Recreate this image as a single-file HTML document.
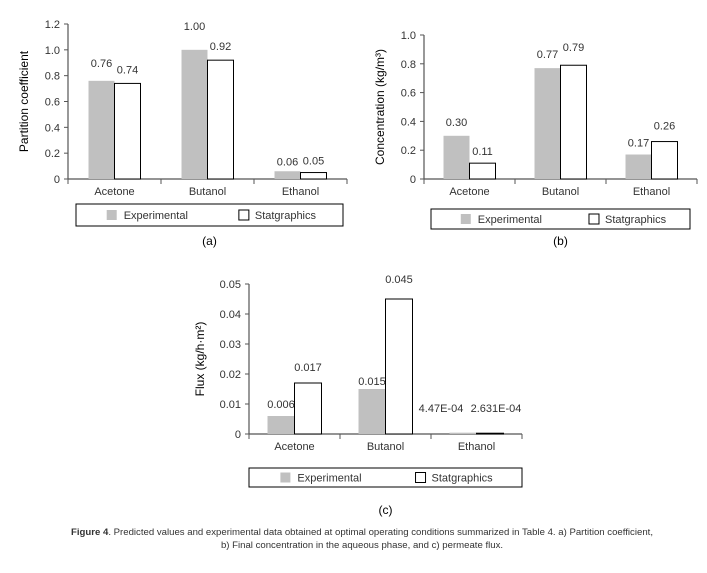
<!DOCTYPE html>
<html><head><meta charset="utf-8"><style>
body{margin:0;background:#fff;width:707px;height:568px;overflow:hidden;font-family:"Liberation Sans",sans-serif}
svg text{font-family:"Liberation Sans",sans-serif;fill:#333}
</style></head><body>
<svg id="s" width="707" height="568">
<text x="362" y="535" font-size="9.6" text-anchor="middle"><tspan font-weight="bold">Figure 4</tspan>. Predicted values and experimental data obtained at optimal operating conditions summarized in Table 4. a) Partition coefficient,</text>
<text x="362" y="548" font-size="9.6" text-anchor="middle">b) Final concentration in the aqueous phase, and c) permeate flux.</text>
</svg>
<script>
const categories=["Acetone","Butanol","Ethanol"];
const expA=[0.76,1.00,0.06];
const statA=[0.74,0.92,0.05];
const labExpA=["0.76","1.00","0.06"];
const labStatA=["0.74","0.92","0.05"];
const ticksA=["0","0.2","0.4","0.6","0.8","1.0","1.2"];
const expB=[0.30,0.77,0.17];
const statB=[0.11,0.79,0.26];
const labExpB=["0.30","0.77","0.17"];
const labStatB=["0.11","0.79","0.26"];
const ticksB=["0","0.2","0.4","0.6","0.8","1.0"];
const expC=[0.006,0.015,0.000447];
const statC=[0.017,0.045,0.0002631];
const labExpC=["0.006","0.015","4.47E-04"];
const labStatC=["0.017","0.045","2.631E-04"];
const ticksC=["0","0.01","0.02","0.03","0.04","0.05"];
const NS="http://www.w3.org/2000/svg";
const svg=document.getElementById('s');
function mk(tag,attrs,parent){const e=document.createElementNS(NS,tag);for(const k in attrs)e.setAttribute(k,attrs[k]);(parent||svg).appendChild(e);return e;}
function chart(o){
  const g=mk('g',{});
  
  
  const max=parseFloat(o.ticks[o.ticks.length-1]);
  const y=v=>o.y0-(v/max)*(o.y0-o.y1);
  const cw=(o.x1-o.x0)/categories.length;
  const cx=i=>o.x0+cw*(i+0.5);
  const ya=mk('line',{x1:o.x0,y1:o.y1,x2:o.x0,y2:o.y0,stroke:'#555','stroke-width':1.2},g);
  
  const xa=mk('line',{x1:o.x0,y1:o.y0,x2:o.x1,y2:o.y0,stroke:'#555','stroke-width':1.2},g);
  
  o.ticks.forEach(t=>{const v=parseFloat(t);const yy=y(v);
    mk('line',{x1:o.x0-4,y1:yy,x2:o.x0,y2:yy,stroke:'#555'},g);
    const tx=mk('text',{x:o.x0-8,y:yy+4,'font-size':11,'text-anchor':'end'},g);tx.textContent=t;
    });
  for(let i=0;i<=categories.length;i++){const xx=o.x0+cw*i;mk('line',{x1:xx,y1:o.y0,x2:xx,y2:o.y0+5,stroke:'#555'},g);}
  categories.forEach((c,i)=>{
    const t=mk('text',{x:cx(i),y:o.y0+16,'font-size':11,'text-anchor':'middle'},g);t.textContent=c;
    
    const ex=cx(i)-o.bw, sx=cx(i);
    const b1=mk('rect',{x:ex,y:y(o.exp[i]),width:o.bw,height:o.y0-y(o.exp[i]),fill:'#c0c0c0'},g);
    
    const b2=mk('rect',{x:sx,y:y(o.stat[i]),width:o.bw,height:o.y0-y(o.stat[i]),fill:'#fff',stroke:'#000','stroke-width':1},g);
    
    const l1=mk('text',{x:ex+o.bw/2+o.dx1[i],y:Math.min(y(o.exp[i]),o.y0-4)-o.lo1[i],'font-size':11,'text-anchor':'middle'},g);l1.textContent=o.le[i];
    
    const l2=mk('text',{x:sx+o.bw/2+o.dx2[i],y:Math.min(y(o.stat[i]),o.y0-4)-o.lo2[i],'font-size':11,'text-anchor':'middle'},g);l2.textContent=o.ls[i];
    
  });
  const yt=mk('text',{x:0,y:0,'font-size':12,'text-anchor':'middle',transform:`translate(${o.ytx},${(o.y0+o.y1)/2}) rotate(-90)`,style:'fill:#000'},g);
  yt.textContent=o.ytitle;
  
  const L=o.leg;
  const lg=mk('g',{},g);
  mk('rect',{x:L[0],y:L[1],width:L[2]-L[0],height:L[3]-L[1],fill:'#fff',stroke:'#000','stroke-width':1},lg);
  const my=(L[1]+L[3])/2, w=L[2]-L[0];
  mk('rect',{x:L[0]+w*0.115,y:my-5,width:10,height:10,fill:'#c0c0c0'},lg);
  const e1=mk('text',{x:L[0]+w*0.115+17,y:my+4,'font-size':11},lg);e1.textContent='Experimental';
  
  mk('rect',{x:L[0]+w*0.61,y:my-5,width:10,height:10,fill:'#fff',stroke:'#000'},lg);
  const e2=mk('text',{x:L[0]+w*0.61+16,y:my+4,'font-size':11},lg);e2.textContent='Statgraphics';
  
  const p=mk('text',{x:(L[0]+L[2])/2,y:o.py,'font-size':12,'text-anchor':'middle',style:'fill:#000'},g);p.textContent=o.id;
  
}
chart({id:'(a)',x0:68,x1:347,y0:179,y1:24,bw:26,exp:expA,stat:statA,le:labExpA,ls:labStatA,ticks:ticksA,
  lo1:[14,20,6],lo2:[10,10,8],dx1:[0,0,0],dx2:[0,0,0],ytitle:'Partition  coefficient',ytx:28,leg:[76,204,343,226],py:245});
chart({id:'(b)',x0:424,x1:697,y0:179,y1:35,bw:26,exp:expB,stat:statB,le:labExpB,ls:labStatB,ticks:ticksB,
  lo1:[10,10,8],lo2:[8,14,12],dx1:[0,0,0],dx2:[0,0,0],ytitle:'Concentration (kg/m³)',ytx:384,leg:[431,209,690,229],py:245});
chart({id:'(c)',x0:249,x1:522,y0:434,y1:284,bw:27,exp:expC,stat:statC,le:labExpC,ls:labStatC,ticks:ticksC,
  lo1:[8,4,18],lo2:[12,16,18],dx1:[0,0,-22],dx2:[0,0,6],ytitle:'Flux (kg/h·m²)',ytx:204,leg:[249,468,522,487],py:514});
</script>
</body></html>
